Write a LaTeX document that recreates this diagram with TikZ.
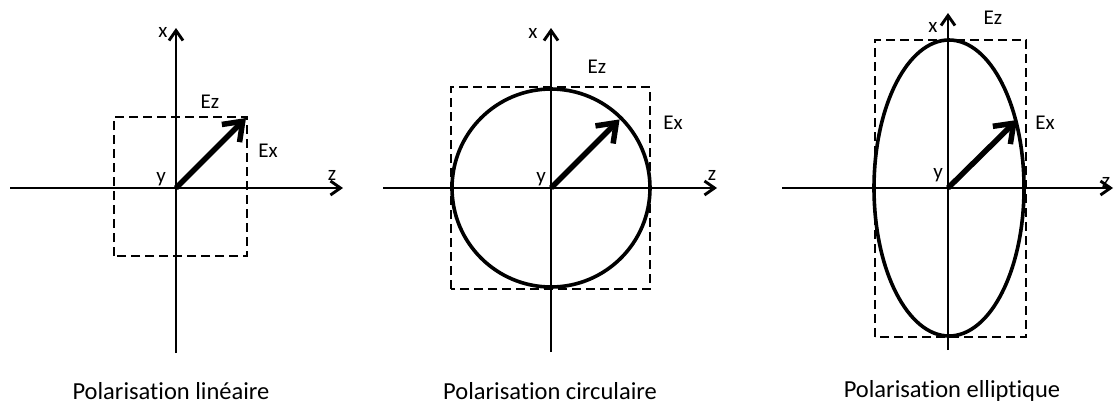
\documentclass[tikz,border=0pt]{standalone}
\usepackage{fontspec}
\setmainfont{Carlito}[Ligatures=NoCommon]
\usetikzlibrary{arrows.meta,positioning}
\tikzset{
  axe/.style={-{Straight Barb[length=10pt,width=14pt]}, line width=2.9pt},
  vect/.style={-{Straight Barb[length=17pt,width=25pt]}, line width=5.5pt},
  cadre/.style={dash pattern=on 9pt off 5pt, line width=2.6pt},
  courbe/.style={line width=3.6pt},
  lab/.style={font=\fontsize{21}{25}\selectfont, inner sep=0pt},
  legende/.style={font=\fontsize{24.5}{29}\selectfont, inner sep=0pt},
}

\begin{document}
\begin{tikzpicture}[x=1pt,y=1pt]
  \useasboundingbox (0,0) rectangle (1115,-405);
  % polarisation lineaire
  \begin{scope}[shift={(176,-188)}]
    \coordinate (oLin) at (0,0);
    \coordinate (zgLin) at (-166,0);
    \coordinate (zdLin) at (167,0);
    \coordinate (xbLin) at (0,-165);
    \coordinate (xhLin) at (0,160);
    \coordinate (pLin) at (70,70);
    \draw[cadre] (-62,-68) rectangle (71,71);
    \draw[axe] (zgLin) -- (zdLin);
    \draw[axe] (xbLin) -- (xhLin);
    \draw[vect] (oLin) -- (pLin);
    \node[lab] (xLin) at (-13,156) {x};
    \node[lab] (yLin) at (-15,9) {y};
    \node[lab] (zLin) at (156,13) {z};
    \node[lab] (ezLin) at (34,86) {Ez};
    \node[lab] (exLin) at (92,37) {Ex};
  \end{scope}
  % polarisation circulaire
  \begin{scope}[shift={(551,-188)}]
    \coordinate (oCir) at (0,0);
    \coordinate (zgCir) at (-168,0);
    \coordinate (zdCir) at (166,0);
    \coordinate (xbCir) at (0,-164);
    \coordinate (xhCir) at (0,160);
    \coordinate (pCir) at (45:97);
    \draw[cadre] (-100,-101) rectangle (99,101);
    \draw[courbe] (oCir) circle[radius=99pt];
    \draw[axe] (zgCir) -- (zdCir);
    \draw[axe] (xbCir) -- (xhCir);
    \draw[vect] (oCir) -- (pCir);
    \node[lab] (xCir) at (-18,155) {x};
    \node[lab] (yCir) at (-10,9) {y};
    \node[lab] (zCir) at (161,13) {z};
    \node[lab] (ezCir) at (46,121) {Ez};
    \node[lab] (exCir) at (122,65) {Ex};
  \end{scope}
  % polarisation elliptique
  \begin{scope}[shift={(948,-188)}]
    \coordinate (oEll) at (0,0);
    \coordinate (zgEll) at (-166,0);
    \coordinate (zdEll) at (165,0);
    \coordinate (xbEll) at (0,-162);
    \coordinate (xhEll) at (0,175);
    \coordinate (pEll) at (69,68);
    \draw[cadre] (-73,-149) rectangle (78,148);
    \draw[courbe] (1,0) ellipse[x radius=75pt, y radius=148pt];
    \draw[axe] (zgEll) -- (zdEll);
    \draw[axe] (xbEll) -- (xhEll);
    \draw[vect] (oEll) -- (pEll);
    \node[lab] (xEll) at (-15,161) {x};
    \node[lab] (yEll) at (-10,13) {y};
    \node[lab] (zEll) at (158,6) {z};
    \node[lab] (ezEll) at (45,170) {Ez};
    \node[lab] (exEll) at (97,65) {Ex};
  \end{scope}
  % legendes
  \node[legende] (tLin) at (171,-391) {Polarisation linéaire};
  \node[legende] (tCir) at (550,-391) {Polarisation circulaire};
  \node[legende] (tEll) at (952,-391) {Polarisation elliptique};
\end{tikzpicture}
\end{document}
